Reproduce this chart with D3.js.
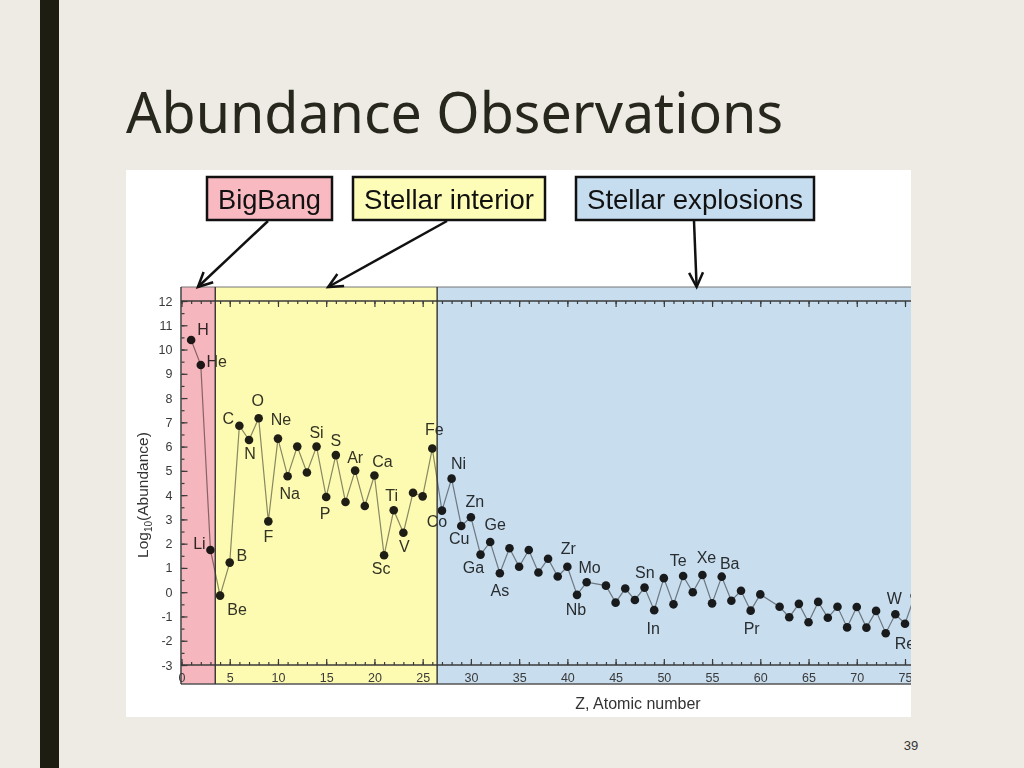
<!DOCTYPE html>
<html>
<head>
<meta charset="utf-8">
<script src="https://cdn.jsdelivr.net/npm/d3@7"></script>
<style>
  html, body { margin: 0; padding: 0; background: #edebe4; }
  svg { display: block; font-family: "Liberation Sans", Arial, sans-serif; }
</style>
</head>
<body>
<svg id="slide" width="1024" height="768"></svg>
<script>
// Abundance data (log10 abundance, Si = 10^6)
const atomicNumbers = [1, 2, 3, 4, 5, 6, 7, 8, 9, 10, 11, 12, 13, 14, 15, 16, 17, 18, 19, 20,
  21, 22, 23, 24, 25, 26, 27, 28, 29, 30, 31, 32, 33, 34, 35, 36, 37, 38, 39, 40,
  41, 42, 44, 45, 46, 47, 48, 49, 50, 51, 52, 53, 54, 55, 56, 57, 58, 59, 60,
  62, 63, 64, 65, 66, 67, 68, 69, 70, 71, 72, 73, 74, 75, 76];
const symbols = ["H", "He", "Li", "Be", "B", "C", "N", "O", "F", "Ne", "Na", "Mg", "Al", "Si", "P", "S", "Cl", "Ar", "K", "Ca",
  "Sc", "Ti", "V", "Cr", "Mn", "Fe", "Co", "Ni", "Cu", "Zn", "Ga", "Ge", "As", "Se", "Br", "Kr", "Rb", "Sr", "Y", "Zr",
  "Nb", "Mo", "Ru", "Rh", "Pd", "Ag", "Cd", "In", "Sn", "Sb", "Te", "I", "Xe", "Cs", "Ba", "La", "Ce", "Pr", "Nd",
  "Sm", "Eu", "Gd", "Tb", "Dy", "Ho", "Er", "Tm", "Yb", "Lu", "Hf", "Ta", "W", "Re", "Os"];
const logAbundance = [10.39, 9.36, 1.74, -0.14, 1.22, 6.86, 6.27, 7.17, 2.92, 6.33, 4.78, 6.0, 4.93, 6.0, 3.92, 5.65, 3.72, 5.01, 3.55, 4.81,
  1.52, 3.38, 2.45, 4.1, 3.95, 5.92, 3.36, 4.68, 2.73, 3.09, 1.55, 2.07, 0.78, 1.81, 1.05, 1.74, 0.81, 1.38, 0.65, 1.05,
  -0.11, 0.41, 0.27, -0.43, 0.15, -0.32, 0.19, -0.74, 0.58, -0.5, 0.67, 0.0, 0.71, -0.46, 0.64, -0.35, 0.06, -0.76, -0.09,
  -0.6, -1.03, -0.48, -1.24, -0.40, -1.05, -0.6, -1.45, -0.61, -1.46, -0.77, -1.69, -0.91, -1.30, -0.15];

// Which elements carry a name tag in the plot
const labelled = ["H", "He", "Li", "Be", "B", "C", "N", "O", "F", "Ne", "Na", "Si", "S", "P", "Ar", "Ca", "Sc", "Ti", "V",
  "Fe", "Co", "Ni", "Cu", "Zn", "Ga", "Ge", "As", "Zr", "Nb", "Mo", "Sn", "In", "Te", "Xe", "Ba", "Pr", "W", "Re"];

// Nucleosynthesis regions along Z
const regionNames = ["BigBang", "Stellar interior", "Stellar explosions"];
const regionStarts = [0, 3.5, 26.5];
const regionEnds = [3.5, 26.5, 80];
const arrowTargets = [1.7, 15.2, 53.4];

const yTicks = d3.range(-3, 13);

// --- layout (pixels) ---
const labelNudge = {
  H: [12, -11], He: [16, -4], Li: [-11, -7], Be: [17, 14], B: [12, -7], C: [-11, -7], N: [1, 13],
  O: [-1, -18], F: [0, 15], Ne: [3, -19], Na: [2, 17], Si: [0, -14], S: [0, -15], P: [-1, 16],
  Ar: [0, -13], Ca: [8, -14], Sc: [-3, 13], Ti: [-2, -15], V: [1, 13], Fe: [2, -19], Co: [-5, 11],
  Ni: [7, -15], Cu: [-2, 12], Zn: [4, -16], Ga: [-7, 13], Ge: [5, -18], As: [0, 17], Zr: [1, -18],
  Nb: [-1, 14], Mo: [3, -15], Sn: [-19, -6], In: [-1, 18], Te: [-5, -16], Xe: [4, -18], Ba: [8, -13],
  Pr: [1, 18], W: [-1, -16], Re: [0, 19]
};
const regionFill = ["#f6b6bd", "#fdfbb2", "#c8ddee"];
const boxFill = ["#f8b9c1", "#fdfdb8", "#c6dcef"];
const boxes = [[207, 332], [353, 545], [576, 814]];

const svg = d3.select("#slide");

// slide chrome
svg.append("rect").attr("x", 40).attr("y", 0).attr("width", 19).attr("height", 768).attr("fill", "#1d1d12");
svg.append("text")
  .attr("x", 126).attr("y", 133)
  .attr("font-family", "'Noto Sans', 'Open Sans', sans-serif")
  .attr("font-size", 56)
  .attr("textLength", 657).attr("lengthAdjust", "spacingAndGlyphs")
  .attr("fill", "#27271d")
  .text("Abundance Observations");
svg.append("text")
  .attr("x", 911).attr("y", 750).attr("text-anchor", "middle")
  .attr("font-size", 13).attr("fill", "#333")
  .text("39");

// picture area
const pic = { x0: 126, y0: 170, x1: 911, y1: 717 };
svg.append("defs").append("clipPath").attr("id", "picclip")
  .append("rect").attr("x", pic.x0).attr("y", pic.y0)
  .attr("width", pic.x1 - pic.x0).attr("height", pic.y1 - pic.y0);

const g = svg.append("g").attr("clip-path", "url(#picclip)").style("isolation", "isolate");
g.append("rect").attr("x", pic.x0).attr("y", pic.y0)
  .attr("width", pic.x1 - pic.x0).attr("height", pic.y1 - pic.y0).attr("fill", "#fff");

const x = d3.scaleLinear().domain([0, 75]).range([181.5, 905]);
const y = d3.scaleLinear().domain([-3, 12]).range([665, 301]);
const frameTop = y(12) - 14;
const frameBottom = y(-3) + 19;

const points = atomicNumbers.map((z, i) => ({ z, sym: symbols[i], v: logAbundance[i] }));

// data: line, dots, element tags
const line = d3.line().x((d) => x(d.z)).y((d) => y(d.v));
g.append("path").datum(points)
  .attr("d", line).attr("fill", "none")
  .attr("stroke", "#8a8a8a").attr("stroke-width", 1.2);

g.selectAll("circle.pt").data(points).enter().append("circle")
  .attr("class", "pt")
  .attr("cx", (d) => x(d.z)).attr("cy", (d) => y(d.v))
  .attr("r", 4.3).attr("fill", "#1e1e1e");

g.selectAll("text.el").data(points.filter((d) => labelled.includes(d.sym))).enter().append("text")
  .attr("class", "el")
  .attr("x", (d) => x(d.z) + labelNudge[d.sym][0])
  .attr("y", (d) => y(d.v) + labelNudge[d.sym][1])
  .attr("dy", "0.36em")
  .attr("text-anchor", "middle")
  .attr("font-size", 16).attr("fill", "#333")
  .text((d) => d.sym);

// coloured regions multiplied over the data
g.selectAll("rect.region").data(regionNames).enter().append("rect")
  .attr("class", "region")
  .attr("x", (_d, i) => x(regionStarts[i]))
  .attr("width", (_d, i) => x(regionEnds[i]) - x(regionStarts[i]))
  .attr("y", frameTop).attr("height", frameBottom - frameTop)
  .attr("fill", (_d, i) => regionFill[i])
  .style("mix-blend-mode", "multiply");

// axes
const axisColor = "#3a3a3a";
const plainInt = (d) => String(d);
const styleAxis = (sel) => {
  sel.select(".domain").remove();
  sel.selectAll(".tick line").attr("stroke", axisColor).attr("stroke-width", 1.2);
  sel.selectAll(".tick text").attr("fill", "#3a3a3a").attr("font-size", 12.5)
    .attr("font-family", "'Liberation Sans', Arial, sans-serif");
};

g.append("g").attr("transform", `translate(0,${y(12)})`)
  .call(d3.axisBottom(x).tickValues(d3.range(0, 81, 1)).tickSize(3).tickFormat(""))
  .call(styleAxis);
g.append("g").attr("transform", `translate(0,${y(12)})`)
  .call(d3.axisBottom(x).tickValues(d3.range(0, 81, 5)).tickSize(6).tickFormat(""))
  .call(styleAxis);
g.append("g").attr("transform", `translate(0,${y(-3)})`)
  .call(d3.axisBottom(x).tickValues(d3.range(0, 81, 1)).tickSize(-3).tickFormat(""))
  .call(styleAxis);
g.append("g").attr("transform", `translate(0,${y(-3)})`)
  .call(d3.axisBottom(x).tickValues(d3.range(0, 81, 5)).tickSize(-6).tickPadding(8).tickFormat(plainInt))
  .call(styleAxis);
g.append("g").attr("transform", `translate(${x(0)},0)`)
  .call(d3.axisLeft(y).tickValues(d3.range(-3, 12.01, 0.5)).tickSize(-3).tickFormat(""))
  .call(styleAxis);
g.append("g").attr("transform", `translate(${x(0)},0)`)
  .call(d3.axisLeft(y).tickValues(yTicks).tickSize(-6).tickPadding(9).tickFormat(plainInt))
  .call(styleAxis);

// frame lines
const frameX0 = x(0) - 0.5;
[y(12), y(-3)].forEach((yy) => {
  g.append("line").attr("x1", frameX0).attr("x2", pic.x1).attr("y1", yy).attr("y2", yy)
    .attr("stroke", axisColor).attr("stroke-width", 1.3);
});
g.append("line").attr("x1", frameX0).attr("x2", pic.x1).attr("y1", frameTop).attr("y2", frameTop)
  .attr("stroke", "#777").attr("stroke-width", 1);
g.append("line").attr("x1", frameX0).attr("x2", pic.x1).attr("y1", frameBottom).attr("y2", frameBottom)
  .attr("stroke", "#555").attr("stroke-width", 1.3);
[x(0) - 0.5, x(regionStarts[1]), x(regionStarts[2])].forEach((xx) => {
  g.append("line").attr("x1", xx).attr("x2", xx).attr("y1", frameTop).attr("y2", frameBottom)
    .attr("stroke", "#333").attr("stroke-width", 1.4);
});

// axis titles
const yl = g.append("text")
  .attr("transform", "translate(148,495) rotate(-90)")
  .attr("text-anchor", "middle").attr("font-size", 15.5).attr("fill", "#333");
yl.append("tspan").text("Log");
yl.append("tspan").attr("font-size", 10).attr("dy", 4).text("10");
yl.append("tspan").attr("dy", -4).text("(Abundance)");

g.append("text")
  .attr("x", 638).attr("y", 709).attr("text-anchor", "middle")
  .attr("font-size", 16).attr("fill", "#333")
  .text("Z, Atomic number");

// annotation boxes and arrows
const boxTop = 177, boxBottom = 220;
regionNames.forEach((name, i) => {
  const [bx0, bx1] = boxes[i];
  g.append("rect").attr("x", bx0).attr("y", boxTop)
    .attr("width", bx1 - bx0).attr("height", boxBottom - boxTop)
    .attr("fill", boxFill[i]).attr("stroke", "#111").attr("stroke-width", 2.5);
  g.append("text")
    .attr("x", (bx0 + bx1) / 2).attr("y", (boxTop + boxBottom) / 2).attr("dy", "0.36em")
    .attr("text-anchor", "middle").attr("font-size", 28)
    .attr("font-family", "'Liberation Sans Narrow', 'Liberation Sans', Arial, sans-serif")
    .attr("textLength", bx1 - bx0 - 22).attr("lengthAdjust", "spacingAndGlyphs")
    .attr("fill", "#111")
    .text(name);
});

const arrowStarts = [[268, 221], [447, 221], [694, 221]];
arrowStarts.forEach(([sx, sy], i) => {
  const ex = x(arrowTargets[i]), ey = frameTop;
  g.append("line").attr("x1", sx).attr("y1", sy).attr("x2", ex).attr("y2", ey)
    .attr("stroke", "#111").attr("stroke-width", 2.5);
  const ang = Math.atan2(ey - sy, ex - sx);
  const len = 16, spread = 0.45;
  const p1 = [ex - len * Math.cos(ang - spread), ey - len * Math.sin(ang - spread)];
  const p2 = [ex - len * Math.cos(ang + spread), ey - len * Math.sin(ang + spread)];
  g.append("path")
    .attr("d", `M${p1[0]},${p1[1]}L${ex},${ey}L${p2[0]},${p2[1]}`)
    .attr("fill", "none").attr("stroke", "#111").attr("stroke-width", 2.5)
    .attr("stroke-linejoin", "miter");
});
</script>
</body>
</html>
